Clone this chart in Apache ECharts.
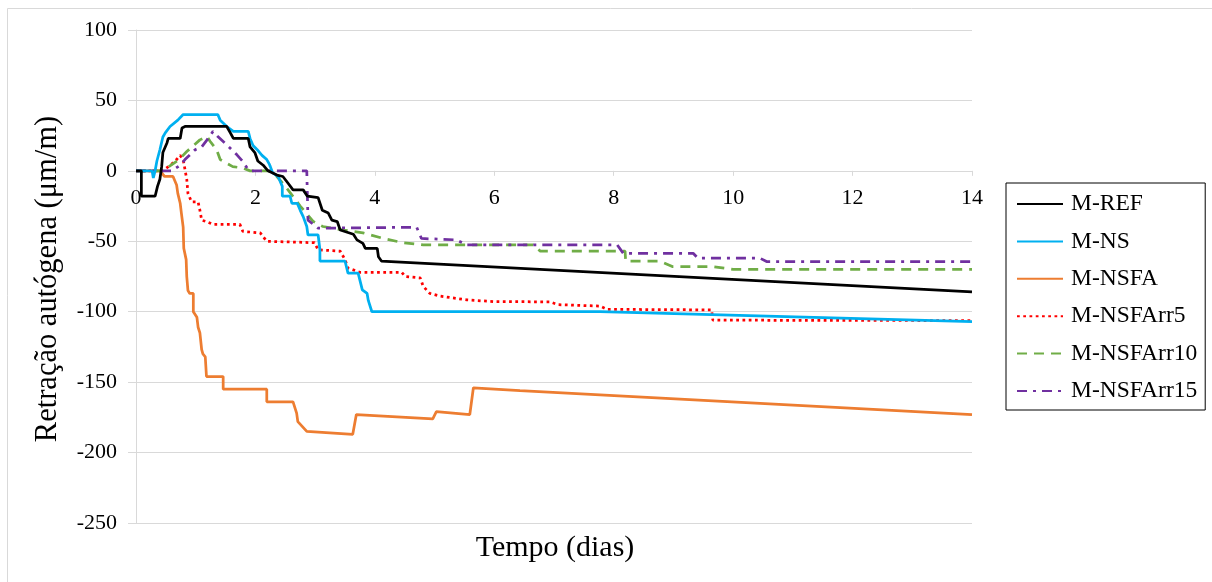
<!DOCTYPE html>
<html>
<head>
<meta charset="utf-8">
<script src="https://cdn.jsdelivr.net/npm/echarts@6/dist/echarts.min.js"></script>
<style>
  html, body { margin: 0; padding: 0; background: #ffffff; }
  #chart { width: 1212px; height: 582px; }
</style>
</head>
<body>
<div id="chart"></div>
<script>
// Autogenous shrinkage (μm/m) versus age (days) for each mortar mix.
const seriesNames = ['M-REF', 'M-NS', 'M-NSFA', 'M-NSFArr5', 'M-NSFArr10', 'M-NSFArr15'];
const xTicks = [0, 2, 4, 6, 8, 10, 12, 14];
const yTicks = [-250, -200, -150, -100, -50, 0, 50, 100];

// [days, μm/m]
const mREF = [
  [0, 0], [0.09, 0], [0.09, -18], [0.32, -18], [0.36, -11], [0.40, -6], [0.43, 3], [0.45, 13],
  [0.52, 20], [0.54, 23], [0.74, 23], [0.77, 30.5], [0.82, 31.5], [1.52, 31.5], [1.58, 27],
  [1.63, 23], [1.88, 23], [1.91, 17], [1.99, 13], [2.04, 7], [2.13, 4], [2.21, 0], [2.36, -3],
  [2.46, -4], [2.55, -9], [2.63, -13.5], [2.80, -13.5], [2.87, -18], [3.05, -19], [3.12, -28],
  [3.22, -30], [3.28, -35], [3.37, -36], [3.42, -42], [3.64, -45], [3.70, -49], [3.80, -51.5],
  [3.84, -55], [4.04, -55], [4.06, -61], [4.11, -64], [14, -86]
];
const mNS = [
  [0, 0], [0.27, 0], [0.29, -5], [0.32, 0], [0.35, 7], [0.40, 15], [0.45, 24], [0.49, 27],
  [0.57, 31.5], [0.70, 36], [0.79, 40], [1.37, 40], [1.41, 36], [1.52, 31.5], [1.63, 28],
  [1.88, 28], [1.91, 23], [1.96, 18], [2.03, 15], [2.11, 11], [2.19, 8], [2.23, 5], [2.25, 3],
  [2.29, -1.5], [2.38, -4], [2.45, -11], [2.45, -18], [2.58, -18], [2.61, -23], [2.70, -23],
  [2.75, -28], [2.80, -32.5], [2.86, -39.5], [2.88, -45.5], [3.05, -45.5], [3.08, -56],
  [3.08, -64], [3.50, -64], [3.55, -72.6], [3.72, -72.6], [3.79, -84.5], [3.87, -87],
  [3.89, -92], [3.95, -100], [7.77, -100], [14, -107]
];
const mNSFA = [
  [0, 0], [0.40, 0], [0.48, -4], [0.62, -4], [0.68, -10], [0.70, -16], [0.74, -23], [0.76, -30],
  [0.79, -40], [0.80, -55], [0.84, -63], [0.85, -75], [0.87, -85], [0.90, -87], [0.96, -87],
  [0.96, -100], [1.02, -104], [1.04, -111], [1.07, -115], [1.10, -127], [1.12, -130],
  [1.16, -132], [1.18, -146], [1.46, -146], [1.46, -155], [2.19, -155], [2.19, -164],
  [2.63, -164], [2.69, -172], [2.71, -178], [2.86, -185], [3.63, -187], [3.69, -173],
  [4.97, -176], [5.03, -171], [5.59, -173], [5.65, -154], [6.43, -156], [14, -173]
];
const mNSFArr5 = [
  [0, 0], [0.45, 0], [0.65, 6.6], [0.74, 11], [0.79, 8], [0.82, 1], [0.85, -6], [0.87, -16],
  [0.93, -22], [1.04, -22], [1.07, -28], [1.10, -35], [1.18, -36], [1.29, -38], [1.74, -38],
  [1.79, -43], [2.08, -44], [2.19, -50], [2.99, -51], [3.05, -56], [3.42, -57], [3.50, -63],
  [3.55, -69], [3.75, -72], [4.45, -72], [4.51, -75], [4.76, -76], [4.81, -82], [4.92, -87],
  [5.10, -89], [5.54, -91.6], [5.98, -92.8], [6.93, -93], [7.07, -95], [7.77, -96],
  [7.89, -98.3], [9.64, -98.7], [9.66, -106], [14, -106.3]
];
const mNSFArr10 = [
  [0, 0], [0.45, 0], [0.55, 3], [0.72, 8], [0.85, 13.7], [1.07, 22], [1.19, 24.4], [1.24, 21],
  [1.35, 15], [1.41, 8], [1.62, 3], [1.79, 2], [1.91, 0], [2.24, 0], [2.36, -4], [2.52, -12],
  [2.75, -25], [2.97, -36], [3.13, -39.5], [3.47, -42], [3.80, -44], [4.14, -48], [4.47, -51],
  [4.81, -52.6], [6.65, -52.6], [6.77, -57], [8.19, -57], [8.20, -64], [8.77, -64],
  [8.99, -68], [9.66, -68], [10.0, -70], [14, -70]
];
const mNSFArr15 = [
  [0, 0], [0.60, 0], [0.74, 4], [0.82, 8], [0.99, 15], [1.10, 17], [1.19, 22], [1.29, 28],
  [1.37, 24.4], [1.52, 18.5], [1.69, 11.4], [1.79, 6.6], [1.88, 0.7], [1.92, 0], [2.86, 0],
  [2.88, -35], [3.05, -40.7], [4.70, -40], [4.78, -48], [5.37, -49], [5.54, -52.6],
  [8.06, -52.6], [8.16, -58.5], [9.33, -58.5], [9.41, -62], [10.45, -62], [10.56, -64.4],
  [14, -64.4]
];

const seriesData = [mREF, mNS, mNSFA, mNSFArr5, mNSFArr10, mNSFArr15];
const colors = ['#000000', '#00b0f0', '#ed7d31', '#ff0000', '#70ad47', '#7030a0'];
const dashes = ['solid', 'solid', 'solid', [2.75, 3.5], [10, 7], [10, 6, 3, 6]];
// draw order: orange underneath, then the rest
const drawOrder = [2, 3, 4, 5, 1, 0];

const serif = "'Liberation Serif', 'Times New Roman', serif";
const gridColor = '#d9d9d9';

const chart = echarts.init(document.getElementById('chart'), null, { renderer: 'canvas' });

const series = drawOrder.map(i => ({
  name: seriesNames[i],
  type: 'line',
  data: seriesData[i],
  showSymbol: false,
  symbol: 'none',
  z: 2 + drawOrder.indexOf(i),
  lineStyle: { color: colors[i], width: 2.75, type: dashes[i], cap: 'butt' },
  itemStyle: { color: colors[i] },
  animation: false
}));

chart.setOption({
  backgroundColor: '#ffffff',
  animation: false,
  grid: { left: 136, right: 240, top: 30, bottom: 59, containLabel: false },
  xAxis: {
    type: 'value',
    min: xTicks[0],
    max: xTicks[xTicks.length - 1],
    interval: 2,
    position: 'bottom',
    axisLine: { show: true, onZero: false, lineStyle: { color: gridColor, width: 1 } },
    axisTick: { show: true, length: 5, lineStyle: { color: gridColor } },
    splitLine: { show: false },
    axisLabel: { color: '#000', fontFamily: serif, fontSize: 22, margin: 16 }
  },
  yAxis: {
    type: 'value',
    min: yTicks[0],
    max: yTicks[yTicks.length - 1],
    interval: 50,
    axisLine: { show: true, onZero: false, lineStyle: { color: gridColor, width: 1 } },
    axisTick: { show: true, length: 8, lineStyle: { color: gridColor } },
    splitLine: { show: true, lineStyle: { color: gridColor, width: 1 } },
    axisLabel: { color: '#000', fontFamily: serif, fontSize: 22, margin: 19 }
  },
  legend: {
    data: seriesNames,
    orient: 'vertical',
    left: 1006,
    top: 183,
    padding: [9, 8, 7, 10],
    itemGap: 13.4,
    itemWidth: 46,
    itemHeight: 14,
    borderColor: '#000000',
    borderWidth: 1,
    backgroundColor: '#ffffff',
    itemStyle: { opacity: 0, borderWidth: 0 },
    textStyle: { color: '#000', fontFamily: serif, fontSize: 23.5, padding: [0, 0, 0, 3] }
  },
  graphic: [
    {
      type: 'rect',
      silent: true,
      shape: { x: 7.5, y: 8.5, width: 1400, height: 800 },
      style: { fill: 'none', stroke: '#d9d9d9', lineWidth: 1 },
      z: -10
    },
    {
      type: 'text',
      position: [555, 548],
      style: {
        text: 'Tempo (dias)', x: 0, y: 0,
        font: "30px 'Liberation Serif', 'Times New Roman', serif",
        fill: '#000', align: 'center', verticalAlign: 'middle'
      }
    },
    {
      type: 'text',
      rotation: Math.PI / 2,
      position: [48, 279],
      style: {
        text: 'Retração autógena (μm/m)', x: 0, y: 0,
        font: "30.5px 'Liberation Serif', 'Times New Roman', serif",
        fill: '#000', align: 'center', verticalAlign: 'middle'
      }
    }
  ],
  series: series
});

// The time axis crosses at zero shrinkage: lift it from the grid bottom to y = 0.
const yZeroPx = chart.convertToPixel({ yAxisIndex: 0 }, 0);
const yMinPx = chart.convertToPixel({ yAxisIndex: 0 }, yTicks[0]);
chart.setOption({ xAxis: { offset: yZeroPx - yMinPx } });
</script>
</body>
</html>
